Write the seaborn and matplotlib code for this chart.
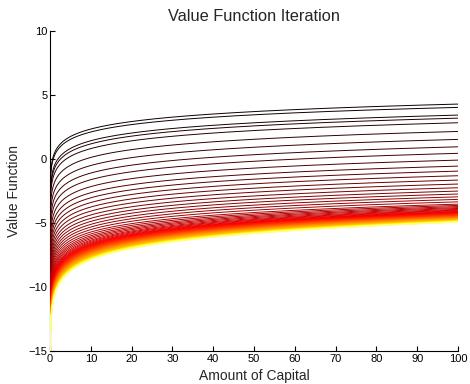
import matplotlib
matplotlib.use("Agg")
import matplotlib.pyplot as plt
import numpy as np
import pandas as pd
import seaborn as sns

# capital grid (dense near zero so every curve plunges along the axis)
capital = np.unique(np.concatenate([np.geomspace(1e-12, 1, 200),
                                    np.linspace(1, 100, 400)]))

# value of each iteration's curve at k = 100 (top -> bottom)
value_at_100 = [
    4.30, 4.04, 3.44, 3.20, 2.84, 2.16, 1.54, 0.96, 0.45, -0.08,
    -0.55, -0.94, -1.30, -1.64, -1.95, -2.24, -2.50, -2.73, -2.95, -3.15,
    -3.34, -3.52, -3.62, -3.71, -3.79, -3.86, -3.93, -3.99, -4.04, -4.09,
    -4.13, -4.16, -4.19, -4.22, -4.25, -4.28, -4.30, -4.33, -4.35, -4.37,
    -4.39, -4.42, -4.44, -4.46, -4.48, -4.50, -4.52, -4.54, -4.56, -4.58,
    -4.60, -4.62, -4.64, -4.66, -4.68, -4.70, -4.72, -4.74, -4.76, -4.78,
    -4.80, -4.81, -4.82, -4.83, -4.84, -4.85, -4.86, -4.87, -4.875, -4.88,
    -4.885, -4.89, -4.895, -4.90, -4.905, -4.91, -4.912, -4.915, -4.918, -4.92,
]

# value of the same curves at k = 1
value_at_1 = [
    0.40, 0.20, -0.57, -0.82, -1.20, -1.90, -2.54, -3.14, -3.67, -4.22,
    -4.70, -5.11, -5.49, -5.85, -6.18, -6.49, -6.76, -7.01, -7.25, -7.47,
    -7.68, -7.88, -8.09, -8.28, -8.44, -8.59, -8.74, -8.86, -8.97, -9.07,
    -9.15, -9.22, -9.28, -9.34, -9.40, -9.47, -9.51, -9.57, -9.61, -9.65,
    -9.70, -9.76, -9.80, -9.84, -9.88, -9.92, -9.97, -10.01, -10.05, -10.09,
    -10.13, -10.18, -10.22, -10.26, -10.30, -10.34, -10.38, -10.43, -10.47, -10.51,
    -10.55, -10.57, -10.59, -10.61, -10.63, -10.65, -10.68, -10.70, -10.71, -10.72,
    -10.73, -10.74, -10.75, -10.76, -10.77, -10.78, -10.78, -10.79, -10.80, -10.80,
]

x_ticks = [0, 10, 20, 30, 40, 50, 60, 70, 80, 90, 100]
y_ticks = [-15, -10, -5, 0, 5, 10]

# each iterate is log-shaped in capital
frames = []
for i, (v100, v1) in enumerate(zip(value_at_100, value_at_1)):
    slope = (v100 - v1) / np.log(100)
    frames.append(pd.DataFrame({
        "capital": capital,
        "value": v100 + slope * np.log(capital / 100),
        "iteration": i,
    }))
df = pd.concat(frames, ignore_index=True)

n = len(value_at_100)
colors = [tuple(c) for c in plt.get_cmap("hot")(np.linspace(0, 0.88, n))]

sns.set_style("ticks")
plt.rcParams["font.family"] = ["Liberation Sans", "DejaVu Sans"]

fig = plt.figure(figsize=(4.7, 3.84), dpi=100)
ax = fig.add_axes([0.1064, 0.0859, 0.868, 0.833])
sns.lineplot(data=df, x="capital", y="value", hue="iteration", palette=colors,
             estimator=None, sort=False, legend=False, linewidth=0.7, ax=ax)
for line in ax.lines:
    line.set_zorder(3)  # draw the plunge near k=0 over the spine

ax.set_xlim(0, 100)
ax.set_ylim(-15, 10)
ax.set_xticks(x_ticks)
ax.set_yticks(y_ticks)
ax.tick_params(direction="in", length=3.5, width=0.8, labelsize=8,
               colors="black", pad=2)
for s in ["left", "bottom"]:
    ax.spines[s].set_linewidth(0.8)
    ax.spines[s].set_color("black")
sns.despine(ax=ax)
ax.set_title("Value Function Iteration", fontsize=11.8, pad=7.5)
ax.set_xlabel("Amount of Capital", fontsize=10, labelpad=4)
ax.set_ylabel("Value Function", fontsize=10, labelpad=5)

fig.savefig("out.png", dpi=100)
